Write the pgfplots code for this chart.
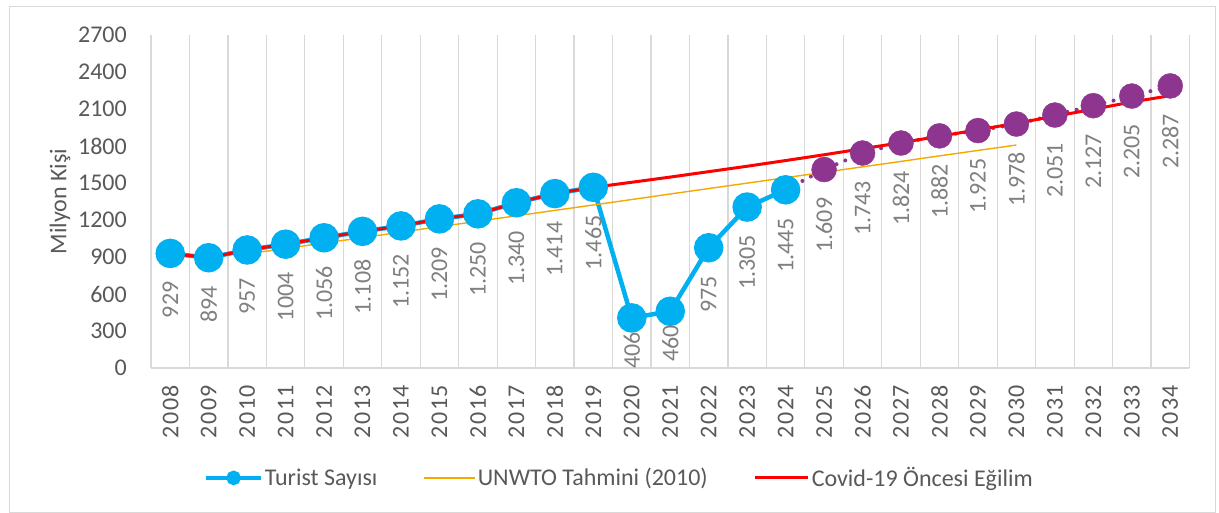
\documentclass[border=0pt]{standalone}
\usepackage{pgfplots}
\pgfplotsset{compat=1.18}
\usepackage{pgfplotstable}
\usepackage{fontspec}
\setmainfont{Carlito}
\newfontfamily\spaced{Carlito}[LetterSpace=6]
\definecolor{turq}{HTML}{00B0F0}
\definecolor{purp}{HTML}{8E3590}
\definecolor{orng}{HTML}{F5A800}
\definecolor{txt}{HTML}{595959}
\definecolor{lbl}{HTML}{808080}
\definecolor{grd}{HTML}{D9D9D9}
\newcommand\fs{\fontsize{24bp}{28bp}\selectfont}

% Turist Sayisi (2008-2024), x = year - 2008
\pgfplotstableread{
x y lab
0 929 929
1 894 894
2 957 957
3 1004 1004
4 1056 1.056
5 1108 1.108
6 1152 1.152
7 1209 1.209
8 1250 1.250
9 1340 1.340
10 1414 1.414
11 1465 1.465
12 406 406
13 460 460
14 975 975
15 1305 1.305
16 1445 1.445
}\bluedata
\pgfplotstableread{
x y lab
0 929 929
1 894 894
2 957 957
3 1004 1004
4 1056 1.056
5 1108 1.108
6 1152 1.152
7 1209 1.209
8 1250 1.250
9 1340 1.340
10 1414 1.414
11 1465 1.465
14 975 975
15 1305 1.305
16 1445 1.445
}\bluelabA
\pgfplotstableread{
x y lab
12 406 406
13 460 460
}\bluelabB
% Projection (2025-2034)
\pgfplotstableread{
x y
16 1445
17 1609
18 1743
19 1824
20 1882
21 1925
22 1978
23 2051
24 2127
25 2205
26 2287
}\purpline
\pgfplotstableread{
x y lab
17 1609 1.609
18 1743 1.743
19 1824 1.824
20 1882 1.882
21 1925 1.925
22 1978 1.978
23 2051 2.051
24 2127 2.127
25 2205 2.205
26 2287 2.287
}\purpdata
% UNWTO Tahmini (2010)
\pgfplotstableread{
x y
2 925
3 969
4 1013
5 1057
6 1102
7 1146
8 1190
9 1234
10 1278
11 1322
12 1366
13 1411
14 1455
15 1499
16 1543
17 1587
18 1631
19 1675
20 1720
21 1764
22 1808
}\unwto
% Covid-19 Oncesi Egilim
\pgfplotstableread{
x y
0 929
1 894
2 957
3 1004
4 1056
5 1108
6 1152
7 1209
8 1250
9 1340
10 1414
11 1465
12 1506
13 1548
14 1592
15 1636
16 1682
17 1729
18 1778
19 1827
20 1879
21 1931
22 1985
23 2041
24 2098
25 2157
26 2208
}\trend

\begin{document}
\begin{tikzpicture}
\useasboundingbox (0,0) rectangle (1219bp,513bp);
\draw[grd, line width=1bp] (9bp,1bp) rectangle (1215bp,506bp);
\begin{axis}[
  at={(151bp,145bp)}, anchor=south west,
  scale only axis, width=1038.5bp, height=333bp,
  xmin=-0.5, xmax=26.5, ymin=0, ymax=2700,
  axis lines*=left,
  axis line style={grd, line width=1.3bp},
  xtick={0,1,...,26},
  xticklabels={2008,2009,2010,2011,2012,2013,2014,2015,2016,2017,2018,2019,2020,2021,2022,2023,2024,2025,2026,2027,2028,2029,2030,2031,2032,2033,2034},
  minor xtick={-0.5,0.5,...,26.5},
  xminorgrids, minor grid style={grd, line width=1.2bp},
  major tick length=0pt, minor tick length=0pt,
  ytick={0,300,...,2700},
  yticklabels={0,300,600,900,1200,1500,1800,2100,2400,2700},
  tick label style={font=\fs, text=txt},
  yticklabel style={anchor=east, inner xsep=24bp, inner ysep=0pt},
  xticklabel style={rotate=90, anchor=east, inner xsep=17bp, inner ysep=0pt, font=\spaced\fs},
  ylabel={Milyon Kişi},
  every axis y label/.style={at={(rel axis cs:0,0.5)}, xshift=-91bp, rotate=90, anchor=center, font=\fs, text=txt},
  legend style={at={(rel axis cs:0.4512,-0.33)}, anchor=center, draw=none, fill=none,
    legend columns=3, font=\fs, text=txt,
    /tikz/every even column/.append style={column sep=44bp}},
  legend cell align=left,
  clip=false,
]
\addplot[turq, line width=4.5bp, mark=*, mark size=12.5bp, mark options={solid, fill=turq, draw=turq},
  legend image code/.code={\draw[turq, line width=3.5bp] (0bp,0bp) -- (55bp,0bp); \fill[turq] (27.5bp,0bp) circle[radius=5bp];}]
  table[x=x, y=y] {\bluedata};
\addlegendentry{Turist Sayısı}
\addplot[purp, line width=4bp, dash pattern=on 0pt off 9.5bp, line cap=round, forget plot]
  table[x=x, y=y] {\purpline};
\addplot[only marks, mark=*, mark size=12.5bp, mark options={solid, fill=purp, draw=purp}, forget plot]
  table[x=x, y=y] {\purpdata};
\addplot[orng, line width=1.4bp,
  legend image code/.code={\draw[orng, line width=1.4bp] (0bp,0bp) -- (51bp,0bp);}]
  table[x=x, y=y] {\unwto};
\addlegendentry{UNWTO Tahmini (2010)}
\addplot[red, line width=3bp,
  legend image code/.code={\draw[red, line width=3bp] (0bp,0bp) -- (53bp,0bp);}]
  table[x=x, y=y] {\trend};
\addlegendentry{Covid-19 Öncesi Eğilim}
% data labels
\addplot[draw=none, mark=none, forget plot, point meta=explicit symbolic, nodes near coords,
  every node near coord/.append style={rotate=90, anchor=east, inner xsep=28bp, inner ysep=0pt, font=\fs, text=lbl}]
  table[x=x, y=y, meta=lab] {\bluelabA};
\addplot[draw=none, mark=none, forget plot, point meta=explicit symbolic, nodes near coords,
  every node near coord/.append style={rotate=90, anchor=east, inner xsep=14bp, inner ysep=0pt, font=\fs, text=lbl}]
  table[x=x, y=y, meta=lab] {\bluelabB};
\addplot[draw=none, mark=none, forget plot, point meta=explicit symbolic, nodes near coords,
  every node near coord/.append style={rotate=90, anchor=east, inner xsep=28bp, inner ysep=0pt, font=\fs, text=lbl}]
  table[x=x, y=y, meta=lab] {\purpdata};
\end{axis}
\end{tikzpicture}
\end{document}
